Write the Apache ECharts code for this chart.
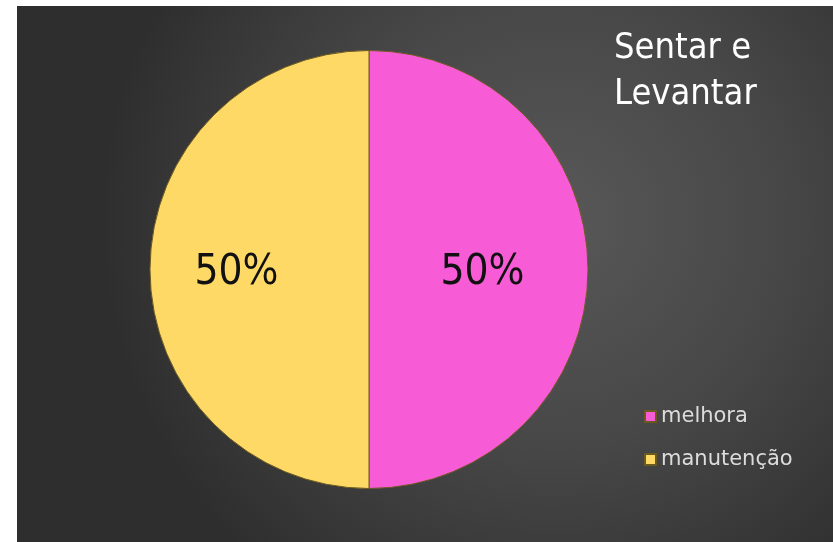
<!DOCTYPE html>
<html><head><meta charset="utf-8">
<script src="https://cdn.jsdelivr.net/npm/echarts@6/dist/echarts.min.js"></script>
<style>html,body{margin:0;padding:0;background:#fff;}#c{width:833px;height:542px;}</style>
</head><body><div id="c"></div>
<script>
const categories = ['melhora', 'manutenção'];
const values = [50, 50];
const colors = ['#f75bd6', '#ffd966'];
const titleText = 'Sentar e\nLevantar';

const chart = echarts.init(document.getElementById('c'));
chart.setOption({
  animation: false,
  graphic: [{
    type: 'rect', z: -10, silent: true,
    shape: {x: 17, y: 6, width: 816, height: 536},
    style: {fill: {type: 'radial', x: 0.66, y: 0.4, r: 0.85, colorStops: [
      {offset: 0, color: '#585858'}, {offset: 0.5, color: '#474747'}, {offset: 1, color: '#2e2e2e'}]}}
  }],
  title: {
    text: titleText, left: 609, top: 21,
    textStyle: {color: '#ffffff', fontSize: 36, fontWeight: 'normal', fontFamily: 'DejaVu Sans Condensed', lineHeight: 46}
  },
  legend: {
    orient: 'vertical', left: 639, top: 401, itemGap: 22,
    itemWidth: 11, itemHeight: 11, icon: 'rect',
    textStyle: {color: '#dcdcdc', fontSize: 21, fontFamily: 'DejaVu Sans', padding: [0,0,0,0]},
    data: categories
  },
  series: [{
    type: 'pie', center: [369, 269.5], radius: 219, startAngle: 90, clockwise: true,
    label: {show: true, position: 'inner', formatter: '{d}%', fontSize: 42, color: '#111', fontFamily: '"DejaVu Sans Condensed"'},
    labelLine: {show: false},
    itemStyle: {borderColor: '#6b5a20', borderWidth: 1},
    emphasis: {disabled: true},
    data: categories.map((c, i) => ({name: c, value: values[i], itemStyle: {color: colors[i]},
      label: {offset: i === 0 ? [1, 4] : [-20, 4]}}))
  }]
});
</script></body></html>
